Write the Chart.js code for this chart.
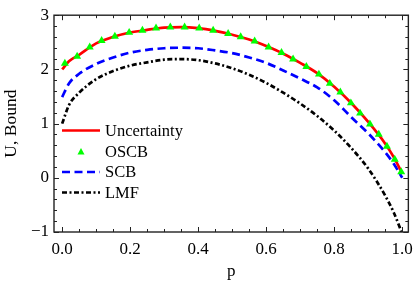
<!DOCTYPE html>
<html>
<head>
<meta charset="utf-8">
<script src="https://cdn.jsdelivr.net/npm/chart.js@4.4.1/dist/chart.umd.min.js"></script>
<style>
  html, body { margin: 0; padding: 0; background: #fff; }
  #wrap { width: 420px; height: 287px; }
</style>
</head>
<body>
<div id="wrap"><canvas id="boundChart"></canvas></div>
<script>
// valores
const pGrid = [0, 0.02, 0.05, 0.10, 0.15, 0.20, 0.25, 0.30, 0.35, 0.40, 0.45, 0.50,
  0.55, 0.60, 0.65, 0.70, 0.75, 0.80, 0.85, 0.90, 0.95, 0.975, 1.0];
const uncertainty = [2.00, 2.15, 2.27, 2.48, 2.60, 2.68, 2.73, 2.77, 2.78, 2.76, 2.71, 2.64,
  2.55, 2.43, 2.29, 2.12, 1.93, 1.68, 1.38, 1.03, 0.63, 0.38, 0.08];
const scb = [1.49, 1.74, 1.92, 2.10, 2.22, 2.31, 2.36, 2.39, 2.40, 2.39, 2.35, 2.30,
  2.22, 2.12, 1.98, 1.83, 1.67, 1.43, 1.12, 0.82, 0.47, 0.26, 0.00];
const lmf = [1.00, 1.34, 1.57, 1.82, 1.97, 2.07, 2.13, 2.18, 2.19, 2.17, 2.11, 2.02,
  1.90, 1.75, 1.57, 1.37, 1.14, 0.87, 0.55, 0.17, -0.33, -0.64, -1.03];

// marcadores OSCB
const oscbP = [0.008, 0.044, 0.081, 0.116, 0.155, 0.197, 0.236, 0.276, 0.318, 0.360,
  0.403, 0.444, 0.488, 0.525, 0.566, 0.607, 0.645, 0.679, 0.718, 0.755, 0.787, 0.818,
  0.849, 0.876, 0.905, 0.931, 0.955, 0.978, 0.997];
const oscbU = [2.11, 2.24, 2.41, 2.53, 2.61, 2.68, 2.72, 2.76, 2.78, 2.78,
  2.76, 2.72, 2.66, 2.60, 2.52, 2.41, 2.31, 2.19, 2.05, 1.91, 1.74, 1.58,
  1.38, 1.19, 0.99, 0.80, 0.58, 0.34, 0.11];

const xTicks = [0, 0.2, 0.4, 0.6, 0.8, 1.0];
const yTicks = [-1, 0, 1, 2, 3];
const legendLabels = ['Uncertainty', 'OSCB', 'SCB', 'LMF'];

const serif = 'Liberation Serif';

function toXY(xs, ys) {
  return xs.map((x, i) => ({ x: x, y: ys[i] }));
}

// marco con ticks hacia adentro + leyenda
const frameTicks = {
  id: 'frameTicks',
  afterDraw(chart) {
    const { ctx, chartArea: a, scales } = chart;
    const xs = scales.x, ys = scales.y;
    ctx.save();
    ctx.strokeStyle = '#222';
    ctx.lineWidth = 1;
    for (let i = 0; i <= 20; i++) {
      const v = i * 0.05;
      const px = Math.round(xs.getPixelForValue(v)) + 0.5;
      const len = (i % 4 === 0) ? 5 : 3;
      ctx.beginPath();
      ctx.moveTo(px, a.bottom); ctx.lineTo(px, a.bottom - len);
      ctx.moveTo(px, a.top); ctx.lineTo(px, a.top + len);
      ctx.stroke();
    }
    for (let i = 0; i <= 20; i++) {
      const v = -1 + i * 0.2;
      const py = Math.round(ys.getPixelForValue(v)) + 0.5;
      const len = (i % 5 === 0) ? 5 : 3;
      ctx.beginPath();
      ctx.moveTo(a.left, py); ctx.lineTo(a.left + len, py);
      ctx.moveTo(a.right, py); ctx.lineTo(a.right - len, py);
      ctx.stroke();
    }
    ctx.lineWidth = 1.4;
    ctx.strokeRect(a.left, a.top, a.right - a.left, a.bottom - a.top);

    // leyenda
    const x0 = a.left + 8, x1 = a.left + 46, tx = a.left + 51;
    const rows = [130.5, 152, 172, 192.5];
    const sets = chart.data.datasets;
    const order = [1, 0, 2, 3];
    ctx.font = '16.5px "' + serif + '"';
    ctx.fillStyle = '#000';
    ctx.textBaseline = 'middle';
    order.forEach((di, r) => {
      const ds = sets[di];
      const y = rows[r];
      if (ds.showLine) {
        ctx.strokeStyle = ds.borderColor;
        ctx.lineWidth = ds.borderWidth;
        ctx.setLineDash(ds.borderDash || []);
        ctx.beginPath();
        ctx.moveTo(x0, y); ctx.lineTo(x1, y);
        ctx.stroke();
        ctx.setLineDash([]);
      } else {
        const cx = (x0 + x1) / 2;
        ctx.fillStyle = ds.pointBackgroundColor;
        ctx.beginPath();
        ctx.moveTo(cx, y - 4); ctx.lineTo(cx + 3.5, y + 2.5); ctx.lineTo(cx - 3.5, y + 2.5);
        ctx.closePath();
        ctx.fill();
        ctx.fillStyle = '#000';
      }
      ctx.fillText(legendLabels[r], tx, y + 1);
    });
    ctx.restore();
  }
};

const ctx = document.getElementById('boundChart').getContext('2d');
new Chart(ctx, {
  type: 'scatter',
  data: {
    datasets: [
      {
        label: 'OSCB',
        data: toXY(oscbP, oscbU),
        showLine: false,
        pointStyle: 'triangle',
        pointRadius: 4.6,
        pointBackgroundColor: '#00ff00',
        pointBorderColor: '#00ff00',
        pointBorderWidth: 0,
        order: 0
      },
      {
        label: 'Uncertainty',
        data: toXY(pGrid, uncertainty),
        showLine: true,
        borderColor: '#ff0000',
        borderWidth: 2.7,
        pointRadius: 0,
        cubicInterpolationMode: 'monotone',
        order: 1
      },
      {
        label: 'SCB',
        data: toXY(pGrid, scb),
        showLine: true,
        borderColor: '#0000ff',
        borderWidth: 2.7,
        borderDash: [8, 4.5],
        pointRadius: 0,
        cubicInterpolationMode: 'monotone',
        order: 2
      },
      {
        label: 'LMF',
        data: toXY(pGrid, lmf),
        showLine: true,
        borderColor: '#000000',
        borderWidth: 2.7,
        borderDash: [5, 2.5, 2, 2.5],
        pointRadius: 0,
        cubicInterpolationMode: 'monotone',
        order: 3
      }
    ]
  },
  options: {
    responsive: true,
    maintainAspectRatio: false,
    animation: false,
    layout: { padding: { top: 11, right: 8, left: 0, bottom: 0 } },
    plugins: {
      legend: { display: false },
      tooltip: { enabled: false }
    },
    scales: {
      x: {
        type: 'linear',
        min: -0.024,
        max: 1.018,
        afterBuildTicks: (s) => { s.ticks = xTicks.map(v => ({ value: v })); },
        afterFit: (s) => { s.height = 55; },
        grid: { display: false, drawTicks: false },
        border: { display: false },
        ticks: {
          padding: 7,
          color: '#000',
          font: { family: serif, size: 17 },
          callback: (v) => Number(v).toFixed(1)
        },
        title: {
          display: true,
          text: 'p',
          color: '#000',
          font: { family: serif, size: 17 },
          padding: { top: 0, bottom: 5 }
        }
      },
      y: {
        type: 'linear',
        min: -1,
        max: 3,
        afterBuildTicks: (s) => { s.ticks = yTicks.map(v => ({ value: v })); },
        afterFit: (s) => { s.width = 54; },
        grid: { display: false, drawTicks: false },
        border: { display: false },
        ticks: {
          padding: 5,
          color: '#000',
          font: { family: serif, size: 17 },
          callback: (v) => (v < 0 ? '\u2212' + Math.abs(v) : String(v))
        },
        title: {
          display: true,
          text: 'U, Bound',
          color: '#000',
          font: { family: serif, size: 17.5 },
          padding: { top: 1, bottom: 0 }
        }
      }
    }
  },
  plugins: [frameTicks]
});
</script>
</body>
</html>
